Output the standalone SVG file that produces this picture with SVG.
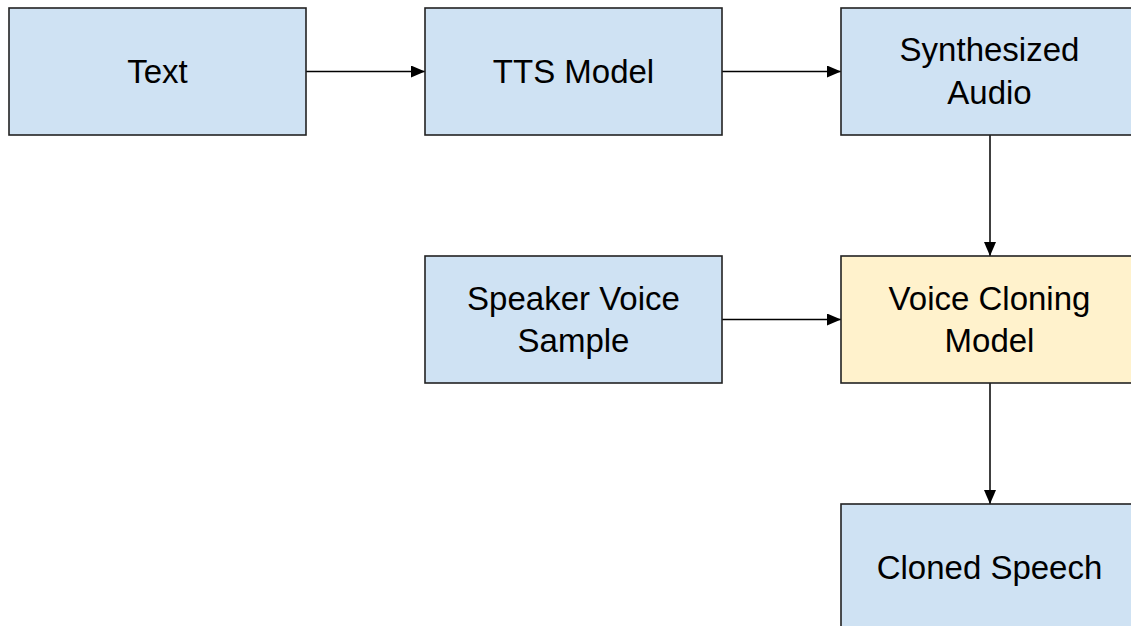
<svg xmlns="http://www.w3.org/2000/svg" width="1131" height="626" viewBox="0 0 1131 626">
<style>
.box{stroke:#222;stroke-width:1.6}
.blue{fill:#cfe2f3}
.yellow{fill:#fff2cc}
.lbl{font-family:"Liberation Sans",Arial,sans-serif;font-size:33px;fill:#000;text-anchor:middle}
.edge{stroke:#000;stroke-width:1.5;fill:none;marker-end:url(#ah)}
</style>
<defs>
<marker id="ah" markerWidth="14" markerHeight="12" refX="14" refY="6" orient="auto" markerUnits="userSpaceOnUse">
<path d="M0,0 L14,6 L0,12 Z" fill="#000"/>
</marker>
</defs>
<rect width="1131" height="626" fill="#fff"/>
<g id="connectors">
<line class="edge" x1="306" y1="71.5" x2="425" y2="71.5"/>
<line class="edge" x1="722" y1="71.5" x2="841" y2="71.5"/>
<line class="edge" x1="990" y1="135" x2="990" y2="256"/>
<line class="edge" x1="722" y1="319.5" x2="841" y2="319.5"/>
<line class="edge" x1="990" y1="383" x2="990" y2="504"/>
</g>
<g id="text">
<rect class="box blue" x="9" y="8" width="297" height="127"/>
<text class="lbl" x="157.5" y="82.5">Text</text>
</g>
<g id="tts">
<rect class="box blue" x="425" y="8" width="297" height="127"/>
<text class="lbl" x="573.5" y="82.5">TTS Model</text>
</g>
<g id="synth">
<rect class="box blue" x="841" y="8" width="297" height="127"/>
<text class="lbl" x="989.5" y="61">Synthesized</text>
<text class="lbl" x="989.5" y="103.5">Audio</text>
</g>
<g id="speaker">
<rect class="box blue" x="425" y="256" width="297" height="127"/>
<text class="lbl" x="573.5" y="309.5">Speaker Voice</text>
<text class="lbl" x="573.5" y="352">Sample</text>
</g>
<g id="cloning">
<rect class="box yellow" x="841" y="256" width="297" height="127"/>
<text class="lbl" x="989.5" y="309.5">Voice Cloning</text>
<text class="lbl" x="989.5" y="352">Model</text>
</g>
<g id="cloned">
<rect class="box blue" x="841" y="504" width="297" height="127"/>
<text class="lbl" x="989.5" y="578.5">Cloned Speech</text>
</g>
</svg>
